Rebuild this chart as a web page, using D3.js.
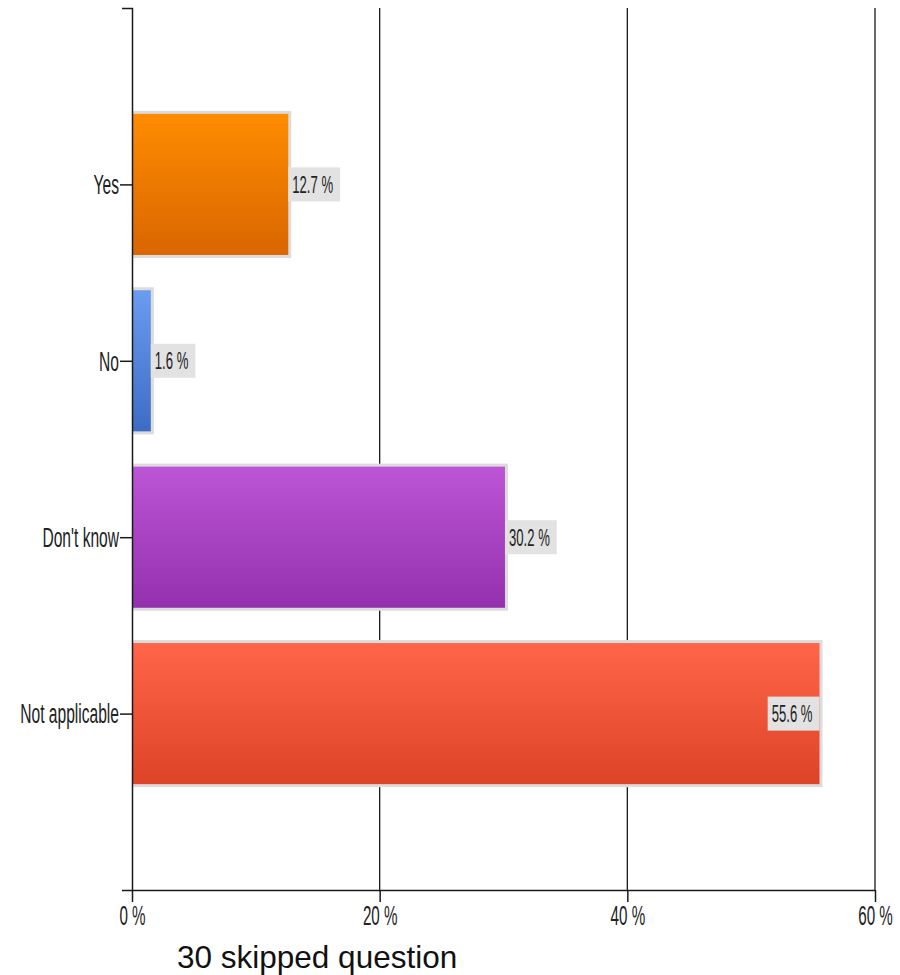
<!DOCTYPE html>
<html lang="en">
  <head>
    <meta charset="utf-8">
    <title>Bar chart</title>
    <script src="https://d3js.org/d3.v7.min.js"></script>
    <style>
      body { margin: 0; background: #fff; }
      .narrow { font-family: "Liberation Sans", Arial, sans-serif; fill: #222; }
    </style>
  </head>
<body>

<script>
var categories = ["Yes", "No", "Don't know", "Not applicable"];
var values = [12.7, 1.6, 30.2, 55.6];
var xTicks = [0, 20, 40, 60];
var topColors = ["#ff8c00", "#6a9cf0", "#bc55d6", "#ff6649"];
var bottomColors = ["#d96600", "#3d6cc4", "#9430ad", "#dc4327"];
var footnote = "30 skipped question";

var width = 900, height = 975;
// the original text is a narrow face stretched vertically
var sx = 0.82, sy = 1.45;

var svg = d3.select("body")
    .append("svg")
    .attr("width", width)
    .attr("height", height);

var x = d3.scaleLinear().domain([0, 60]).range([132, 875]);
var y = d3.scalePoint().domain(categories).range([8, 890]).padding(1);
var barH = y.step() * 0.8;

var defs = svg.append("defs");
categories.forEach((c, i) => {
    var g = defs.append("linearGradient")
        .attr("id", "grad" + i)
        .attr("x1", 0).attr("y1", 0).attr("x2", 0).attr("y2", 1);
    g.append("stop").attr("offset", "0%").attr("stop-color", topColors[i]);
    g.append("stop").attr("offset", "100%").attr("stop-color", bottomColors[i]);
});

// gridlines
svg.selectAll(".grid")
    .data(xTicks.filter(d => d > 0))
    .join("line")
    .attr("class", "grid")
    .attr("x1", d => x(d)).attr("x2", d => x(d))
    .attr("y1", 8).attr("y2", 890)
    .attr("stroke", "#1a1a1a")
    .attr("stroke-width", 1.3);

// bars
var bars = svg.selectAll(".bar")
    .data(values)
    .join("g")
    .attr("class", "bar")
    .attr("transform", (d, i) => `translate(0,${y(categories[i]) - barH / 2})`);

bars.append("rect")
    .attr("x", x(0))
    .attr("y", -3)
    .attr("width", d => x(d) - x(0) + 2)
    .attr("height", barH + 6)
    .attr("fill", "#dcdcdc");

bars.append("rect")
    .attr("x", x(0))
    .attr("y", 0)
    .attr("width", d => x(d) - x(0) - 1)
    .attr("height", barH)
    .attr("fill", (d, i) => `url(#grad${i})`);

// value labels
bars.each(function(d) {
    var g = d3.select(this);
    var box = g.append("rect").attr("fill", "#e2e2e2");
    var t = g.append("text")
        .attr("class", "narrow")
        .attr("font-size", 16)
        .attr("text-anchor", "start")
        .text(d.toFixed(1) + " %");
    var tw = t.node().getComputedTextLength() * sx;
    var bw = tw + 11, bh = 34;
    var bx = x(d) + bw + 10 > x.range()[1] ? x(d) - 1 - bw : x(d) - 1;
    box.attr("x", bx).attr("y", barH / 2 - bh / 2).attr("width", bw).attr("height", bh);
    t.attr("transform", `translate(${bx + 4},${barH / 2}) scale(${sx},${sy})`)
        .attr("dy", "0.36em");
});

// y axis
var yAxis = svg.append("g")
    .attr("transform", `translate(${x(0)},0)`)
    .call(d3.axisLeft(y).tickSize(12).tickSizeOuter(10));
yAxis.select(".domain").attr("stroke", "#1a1a1a").attr("stroke-width", 1.5);
yAxis.selectAll(".tick line").attr("stroke", "#1a1a1a").attr("stroke-width", 1.5);
yAxis.selectAll(".tick text")
    .attr("class", "narrow")
    .attr("font-size", 19)
    .attr("x", -13 / sx)
    .attr("dy", "0.34em")
    .attr("transform", `scale(${sx},${sy})`);

// x axis
var xAxis = svg.append("g")
    .attr("transform", "translate(0,890)")
    .call(d3.axisBottom(x).tickValues(xTicks).tickSize(12).tickSizeOuter(0).tickFormat(d => d + " %"));
xAxis.select(".domain").attr("stroke", "#1a1a1a").attr("stroke-width", 1.5);
xAxis.selectAll(".tick line").attr("stroke", "#1a1a1a").attr("stroke-width", 1.5);
xAxis.selectAll(".tick text")
    .attr("class", "narrow")
    .attr("font-size", 18.5)
    .attr("y", 11)
    .attr("transform", `scale(${sx},${sy})`);

svg.append("text")
    .attr("x", 177)
    .attr("y", 968)
    .attr("font-family", "Liberation Sans, Arial, sans-serif")
    .attr("font-size", 31.5)
    .attr("fill", "#111")
    .text(footnote);
</script>
</body>
</html>
